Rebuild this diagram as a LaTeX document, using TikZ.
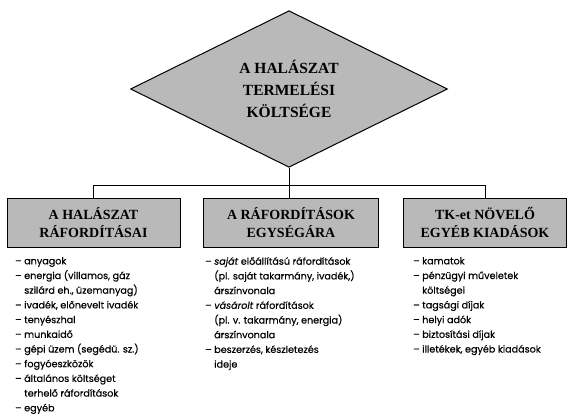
\documentclass[tikz,border=0pt]{standalone}
\usepackage{fontspec}
\setmainfont{Liberation Serif}
\newfontfamily\listfont[FakeBold=0.5]{Poppins}
\usetikzlibrary{shapes.geometric}

\newcommand\listindent{\hphantom{– }}

\tikzset{
  costbox/.style={draw, line width=0.9pt, fill=gray!55, minimum height=49pt, inner sep=0pt, align=center, font=\bfseries\fontsize{14}{17.5}\selectfont},
  itemlist/.style={anchor=north west, inner sep=0pt, align=left, font=\listfont\fontsize{9.6}{14.7}\selectfont},
  link/.style={line width=1pt}
}

\begin{document}
\begin{tikzpicture}[x=1pt,y=-1pt]
	\useasboundingbox (0,0) rectangle (568,420);
	% top of the tree
	\node (cost) at (289,89)[draw, line width=1pt, shape=diamond, fill=gray!55, minimum width=317pt, minimum height=153pt, inner sep=0pt, align=center, font=\bfseries\fontsize{15.5}{22}\selectfont]{A HALÁSZAT\\TERMELÉSI\\KÖLTSÉGE};
	% the three branches
	\node (inputs) at (93.5,222.5)[costbox, minimum width=173pt]{A HALÁSZAT\\RÁFORDÍTÁSAI};
	\node (prices) at (291,222.5)[costbox, minimum width=175pt]{A RÁFORDÍTÁSOK\\EGYSÉGÁRA};
	\node (extras) at (485,222.5)[costbox, minimum width=163pt]{TK-et NÖVELŐ\\EGYÉB KIADÁSOK};
	\coordinate (bus) at (288,185);
	\draw[link] (cost.south) -- (cost.south |- prices.north);
	\draw[link] (inputs.north |- bus) -- (extras.north |- bus);
	\draw[link] (inputs.north) -- (inputs.north |- bus);
	\draw[link] (extras.north) -- (extras.north |- bus);
	% item lists
	\node (inputlist) at (15,257)[itemlist]{– anyagok\\
		– energia (villamos, gáz\\
		\listindent szilárd eh., üzemanyag)\\
		– ivadék, előnevelt ivadék\\
		– tenyészhal\\
		– munkaidő\\
		– gépi üzem (segédü. sz.)\\
		– fogyóeszközök\\
		– általános költséget\\
		\listindent terhelő ráfordítások\\
		– egyéb};
	\node (pricelist) at (205,257)[itemlist]{– \textit{saját} előállítású ráfordítások\\
		\listindent (pl. saját takarmány, ivadék,)\\
		\listindent árszínvonala\\
		– \textit{vásárolt} ráfordítások\\
		\listindent (pl. v. takarmány, energia)\\
		\listindent árszínvonala\\
		– beszerzés, készletezés\\
		\listindent ideje};
	\node (extralist) at (413,257)[itemlist]{– kamatok\\
		– pénzügyi műveletek\\
		\listindent költségei\\
		– tagsági díjak\\
		– helyi adók\\
		– biztosítási díjak\\
		– illetékek, egyéb kiadások};
\end{tikzpicture}
\end{document}
